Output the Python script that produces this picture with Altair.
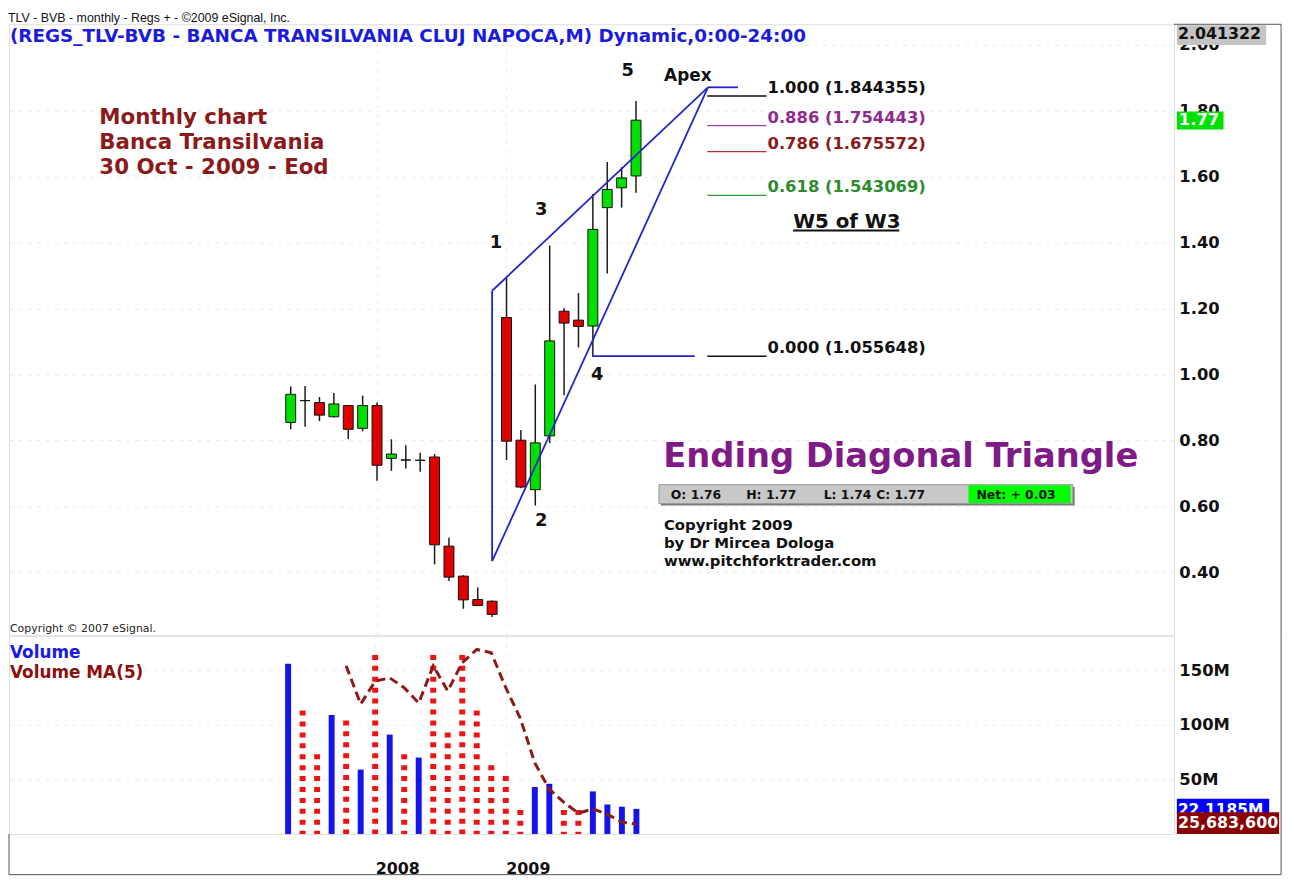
import altair as alt
import pandas as pd

# ---------------- data ----------------
months = list(range(25))
opens  = [0.855, 0.921, 0.915, 0.872, 0.906, 0.837, 0.906, 0.746, 0.741, 0.740, 0.750, 0.480, 0.389,
          0.318, 0.313, 1.173, 0.801, 0.651, 0.814, 1.192, 1.165, 1.147, 1.506, 1.566, 1.602]
highs  = [0.964, 0.965, 0.932, 0.944, 0.907, 0.936, 0.915, 0.804, 0.786, 0.763, 0.759, 0.505, 0.392,
          0.355, 0.315, 1.293, 0.832, 0.970, 1.391, 1.202, 1.247, 1.547, 1.644, 1.628, 1.829]
lows   = [0.834, 0.842, 0.859, 0.870, 0.805, 0.828, 0.678, 0.708, 0.715, 0.705, 0.425, 0.374, 0.290,
          0.298, 0.265, 0.741, 0.655, 0.603, 0.792, 0.937, 1.082, 1.055, 1.306, 1.506, 1.551]
closes = [0.940, 0.921, 0.877, 0.911, 0.834, 0.906, 0.725, 0.759, 0.741, 0.740, 0.484, 0.386, 0.317,
          0.300, 0.273, 0.798, 0.659, 0.793, 1.102, 1.156, 1.146, 1.440, 1.561, 1.596, 1.771]

volumes = [156, 113, 73, 109, 104, 59, 164, 91, 73, 70, 164, 93, 164, 113, 63, 53, 22, 43, 46, 22, 22,
           39, 27, 25, 23]
vol_dir = ["up", "down", "down", "up", "down", "up", "down", "up", "down", "up", "down", "down", "down",
           "down", "down", "down", "down", "up", "up", "down", "down", "up", "up", "up", "up"]
ma_months = list(range(4, 25))
ma_values = [154, 119, 140, 143, 134, 120, 154, 131, 157, 169, 166, 134, 106, 65, 41, 29, 19, 23, 18, 11, 9]

year_ticks = [6, 15]
year_labels = ["2008", "2009"]
price_ticks = [0.40, 0.60, 0.80, 1.00, 1.20, 1.40, 1.60, 1.80, 2.00]
volume_ticks = [50, 100, 150]

fib_ratios = ["1.000", "0.886", "0.786", "0.618", "0.000"]
fib_prices = [1.844355, 1.754443, 1.675572, 1.543069, 1.055648]

wave_names = ["1", "2", "3", "4", "5"]
wave_month = [14.27, 17.42, 17.42, 21.31, 23.43]
wave_price = [1.400, 0.555, 1.499, 0.997, 1.920]

# analyst trend lines (ending diagonal)
tri_m1 = [14.0, 14.0, 29.0, 14.0, 20.97]
tri_p1 = [0.4346, 1.254, 1.8707, 0.4346, 1.0556]
tri_m2 = [14.0, 29.0, 31.09, 29.0, 28.08]
tri_p2 = [1.254, 1.8707, 1.8707, 1.8707, 1.0556]

ohlc_labels = ["O: 1.76", "H: 1.77", "L: 1.74", "C: 1.77"]
net_label = "Net: + 0.03"
last_close = 1.77
top_label = "2.041322"
vol_label = "22.1185M"
ma_label = "25,683,600"

header = "TLV - BVB - monthly - Regs + - \u00a92009 eSignal, Inc."
symbol_line = "(REGS_TLV-BVB - BANCA TRANSILVANIA CLUJ NAPOCA,M) Dynamic,0:00-24:00"
note_block = "Monthly chart\nBanca Transilvania\n30 Oct - 2009 - Eod"
pattern_title = "Ending Diagonal Triangle"
wave_title = "W5 of W3"
credit_block = "Copyright 2009\nby Dr Mircea Dologa\nwww.pitchforktrader.com"

# ---------------- styles ----------------
F = "DejaVu Sans"
GREEN = "#00E000"
RED = "#E00000"
TRI = "#2424C8"
FRAME = "#555555"
FIB_LINE = ["#111111", "#A040B8", "#B03030", "#2FA02F", "#111111"]
FIB_TEXT = ["#111111", "#8E2C8E", "#8B1A1A", "#2E8B2E", "#111111"]
W, HP, HV = 1174, 616, 200

XS = alt.Scale(domain=[-19.234, 61.04], nice=False, zero=False)
YS = alt.Scale(domain=[0.209, 2.0617], nice=False, zero=False)
VS = alt.Scale(domain=[0, 181.8], nice=False, zero=False)

grid_kw = dict(grid=True, gridColor="#e8e8e8", gridDash=[3, 6], gridWidth=1)
lab_kw = dict(labelFont=F, labelFontWeight="bold", labelFontSize=16.5, labelColor="#111111",
              labelOverlap=False, labelFlush=False, labelBound=False)

px_ax = alt.Axis(values=year_ticks, labels=False, ticks=False, domain=False, title=None, **grid_kw)
py_ax = alt.Axis(orient="right", values=price_ticks, format=".2f", ticks=False, tickSize=0, domain=False,
                 labelPadding=5, labelAlign="left", labelBaseline="middle", title=None, **grid_kw, **lab_kw)

expr = "'" + year_labels[-1] + "'"
for t, lab in reversed(list(zip(year_ticks[:-1], year_labels[:-1]))):
    expr = f"datum.value == {t} ? '{lab}' : " + expr
vx_ax = alt.Axis(values=year_ticks, labelExpr=expr, ticks=False, tickSize=0, domain=False,
                 labelPadding=35, labelAlign="left", labelBaseline="middle", title=None,
                 **grid_kw, **dict(lab_kw, labelFontSize=16))
vy_ax = alt.Axis(orient="right", values=volume_ticks, labelExpr="datum.value + 'M'", ticks=False,
                 tickSize=0, domain=False, labelPadding=5, labelAlign="left", labelBaseline="middle",
                 title=None, **grid_kw, **lab_kw)


def X(f):
    return alt.X(f, type="quantitative", scale=XS, axis=px_ax)


def Y(f):
    return alt.Y(f, type="quantitative", scale=YS, axis=py_ax)


one = pd.DataFrame({"k": [0]})

# ---------------- price panel ----------------
cdf = pd.DataFrame({"m": months, "o": opens, "h": highs, "l": lows, "c": closes})
cdf["dir"] = ["up" if c > o else ("down" if c < o else "flat") for o, c in zip(opens, closes)]

wicks = alt.Chart(cdf).mark_rule(color="#1a1a1a", strokeWidth=1.5).encode(x=X("m"), y=Y("l"), y2="h")
bodies = alt.Chart(cdf).mark_bar(width=10, stroke="#111111", strokeWidth=1).encode(
    x=X("m"), y=Y("o"), y2="c",
    fill=alt.Fill("dir:N", scale=alt.Scale(domain=["up", "down", "flat"], range=[GREEN, RED, "#111111"]),
                  legend=None))

tdf = pd.DataFrame({"m1": tri_m1, "p1": tri_p1, "m2": tri_m2, "p2": tri_p2})
tri = alt.Chart(tdf).mark_rule(color=TRI, strokeWidth=1.8).encode(x=X("m1"), y=Y("p1"), x2="m2", y2="p2")

layers_p = [wicks, bodies, tri]

for r, p, lc, tc in zip(fib_ratios, fib_prices, FIB_LINE, FIB_TEXT):
    d = pd.DataFrame({"p": [p], "a": [28.95], "b": [33.07], "t": [33.14], "lab": [f"{r} ({p:.6f})"]})
    layers_p.append(alt.Chart(d).mark_rule(color=lc, strokeWidth=1.4).encode(x=X("a"), x2="b", y=Y("p")))
    layers_p.append(alt.Chart(d).mark_text(align="left", baseline="alphabetic", dy=-3, font=F,
                                           fontWeight="bold", fontSize=16.5, color=tc)
                    .encode(x=X("t"), y=Y("p"), text="lab:N"))

wdf = pd.DataFrame({"n": wave_names, "m": wave_month, "p": wave_price})
layers_p.append(alt.Chart(wdf).mark_text(font=F, fontWeight="bold", fontSize=18, color="#111111",
                                         baseline="middle").encode(x=X("m"), y=Y("p"), text="n:N"))

adf = pd.DataFrame({"m": [27.6], "p": [1.905], "t": ["Apex"]})
layers_p.append(alt.Chart(adf).mark_text(font=F, fontWeight="bold", fontSize=17, color="#111111",
                                         baseline="middle").encode(x=X("m"), y=Y("p"), text="t:N"))

w5 = pd.DataFrame({"m": [34.92], "m2": [42.3], "p": [1.443], "pu": [1.4367], "t": [wave_title]})
layers_p.append(alt.Chart(w5).mark_text(font=F, fontWeight="bold", fontSize=20, color="#111111",
                                        align="left", baseline="alphabetic").encode(x=X("m"), y=Y("p"), text="t:N"))
layers_p.append(alt.Chart(w5).mark_rule(color="#111111", strokeWidth=2).encode(x=X("m"), x2="m2", y=Y("pu")))

edt = pd.DataFrame({"m": [25.89], "p": [0.721], "t": [pattern_title]})
layers_p.append(alt.Chart(edt).mark_text(font=F, fontWeight="bold", fontSize=34, color="#7F1A86",
                                         align="left", baseline="alphabetic").encode(x=X("m"), y=Y("p"), text="t:N"))

# texts placed on the panel
layers_p.append(alt.Chart(one).mark_text(text=symbol_line, font=F, fontWeight="bold", fontSize=18.5,
                                         color="#1A1AE0", align="left", baseline="alphabetic")
                .encode(x=alt.value(1), y=alt.value(18)))
layers_p.append(alt.Chart(one).mark_text(text=note_block, lineBreak="\n", lineHeight=25, font=F,
                                         fontWeight="bold", fontSize=21.5, color="#8B1A1A", align="left",
                                         baseline="alphabetic").encode(x=alt.value(91), y=alt.value(101)))
layers_p.append(alt.Chart(one).mark_text(text=credit_block, lineBreak="\n", lineHeight=18, font=F,
                                         fontWeight="bold", fontSize=15, color="#111111", align="left",
                                         baseline="alphabetic").encode(x=alt.value(660), y=alt.value(509.5)))
layers_p.append(alt.Chart(one).mark_text(text="Copyright \u00a9 2007 eSignal.", font=F, fontSize=11,
                                         color="#222222", align="left", baseline="alphabetic")
                .encode(x=alt.value(1), y=alt.value(612)))

# OHLC info box
layers_p.append(alt.Chart(one).mark_rect(fill="#7a7a7a").encode(
    x=alt.value(657), x2=alt.value(1074), y=alt.value(466), y2=alt.value(485)))
layers_p.append(alt.Chart(one).mark_rect(fill="#C8C8C8", stroke="#9a9a9a", strokeWidth=1).encode(
    x=alt.value(655), x2=alt.value(1072), y=alt.value(464), y2=alt.value(483)))
layers_p.append(alt.Chart(one).mark_rect(fill="#00FF00").encode(
    x=alt.value(967), x2=alt.value(1070), y=alt.value(464.5), y2=alt.value(482.5)))
for lab, xp in zip(ohlc_labels + [net_label], [667, 743, 821, 874, 975]):
    layers_p.append(alt.Chart(one).mark_text(text=lab, font=F, fontWeight="bold", fontSize=12.5,
                                             color="#111111", align="left", baseline="middle")
                    .encode(x=alt.value(xp), y=alt.value(474)))

# price tags on the axis
layers_p.append(alt.Chart(one).mark_rule(color="#C4C4C4", strokeWidth=20, strokeCap="butt").encode(
    x=alt.value(1177), x2=alt.value(1267), y=alt.value(11)))
layers_p.append(alt.Chart(one).mark_text(text=top_label, font=F, fontWeight="bold", fontSize=16,
                                         color="#111111", align="left", baseline="middle")
                .encode(x=alt.value(1178), y=alt.value(10)))
lc_df = pd.DataFrame({"p": [last_close], "t": [f"{last_close:.2f}"]})
layers_p.append(alt.Chart(lc_df).mark_rule(color=GREEN, strokeWidth=18, strokeCap="butt").encode(
    x=alt.value(1177), x2=alt.value(1224), y=Y("p")))
layers_p.append(alt.Chart(lc_df).mark_text(font=F, fontWeight="bold", fontSize=16.5, color="white",
                                           align="left", baseline="middle")
                .encode(x=alt.value(1179), y=Y("p"), text="t:N"))

# frame pieces outside the plot area
layers_p.append(alt.Chart(one).mark_rule(color=FRAME, strokeWidth=1).encode(
    x=alt.value(W), x2=alt.value(1282), y=alt.value(0)))
layers_p.append(alt.Chart(one).mark_rule(color=FRAME, strokeWidth=1).encode(
    x=alt.value(1282), y=alt.value(0), y2=alt.value(HP)))

price = alt.layer(*layers_p).properties(width=W, height=HP)

# ---------------- volume panel ----------------
vdf = pd.DataFrame({"m": months, "v": volumes, "dir": vol_dir})
vx = alt.X("m:Q", scale=XS, axis=vx_ax)
vy = alt.Y("v:Q", scale=VS, axis=vy_ax)

vol_up = alt.Chart(vdf).transform_filter("datum.dir == 'up'").mark_rule(
    color="#1414E8", strokeWidth=6, strokeCap="butt").encode(x=vx, y=vy, y2=alt.datum(0))
vol_dn = alt.Chart(vdf).transform_filter("datum.dir == 'down'").mark_rule(
    color="#EE1414", strokeWidth=6, strokeCap="butt", strokeDash=[5, 6]).encode(x=vx, y=vy, y2=alt.datum(0))
mdf = pd.DataFrame({"m": ma_months, "v": ma_values})
ma = alt.Chart(mdf).mark_line(color="#8B1A1A", strokeWidth=3, strokeDash=[9, 5]).encode(x=vx, y=vy)

layers_v = [vol_up, vol_dn, ma]
layers_v.append(alt.Chart(one).mark_text(text="Volume", font=F, fontWeight="bold", fontSize=17,
                                         color="#1A1AE6", align="left", baseline="alphabetic")
                .encode(x=alt.value(1), y=alt.value(23)))
layers_v.append(alt.Chart(one).mark_text(text="Volume MA(5)", font=F, fontWeight="bold", fontSize=17,
                                         color="#8B1010", align="left", baseline="alphabetic")
                .encode(x=alt.value(1), y=alt.value(43)))
# value tags
layers_v.append(alt.Chart(one).mark_rule(color="#0000FF", strokeWidth=15, strokeCap="butt").encode(
    x=alt.value(1177), x2=alt.value(1270), y=alt.value(172)))
layers_v.append(alt.Chart(one).mark_text(text=vol_label, font=F, fontWeight="bold", fontSize=15.5,
                                         color="white", align="left", baseline="middle")
                .encode(x=alt.value(1178), y=alt.value(176)))
layers_v.append(alt.Chart(one).mark_rule(color="#8B0000", strokeWidth=22, strokeCap="butt").encode(
    x=alt.value(1177), x2=alt.value(1280), y=alt.value(189)))
layers_v.append(alt.Chart(one).mark_text(text=ma_label, font=F, fontWeight="bold", fontSize=16,
                                         color="white", align="left", baseline="middle")
                .encode(x=alt.value(1178), y=alt.value(189)))
# frame pieces
layers_v.append(alt.Chart(one).mark_rule(color=FRAME, strokeWidth=1).encode(
    x=alt.value(1282), y=alt.value(0), y2=alt.value(241)))
layers_v.append(alt.Chart(one).mark_rule(color=FRAME, strokeWidth=1).encode(
    x=alt.value(0), y=alt.value(HV), y2=alt.value(241)))
layers_v.append(alt.Chart(one).mark_rule(color=FRAME, strokeWidth=1).encode(
    x=alt.value(0), x2=alt.value(1282), y=alt.value(241)))

volume = alt.layer(*layers_v).properties(width=W, height=HV)

chart = alt.vconcat(price, volume, spacing=0, bounds="flush").properties(
    padding=0,
    title=alt.TitleParams(text=header, anchor="start", font="Liberation Sans", fontSize=12.5,
                          fontWeight="normal", color="#111111", offset=-1),
).configure_view(stroke=FRAME, strokeWidth=1).configure(background="white")

chart.save("out.html", embed_options={"renderer": "svg", "actions": False})
